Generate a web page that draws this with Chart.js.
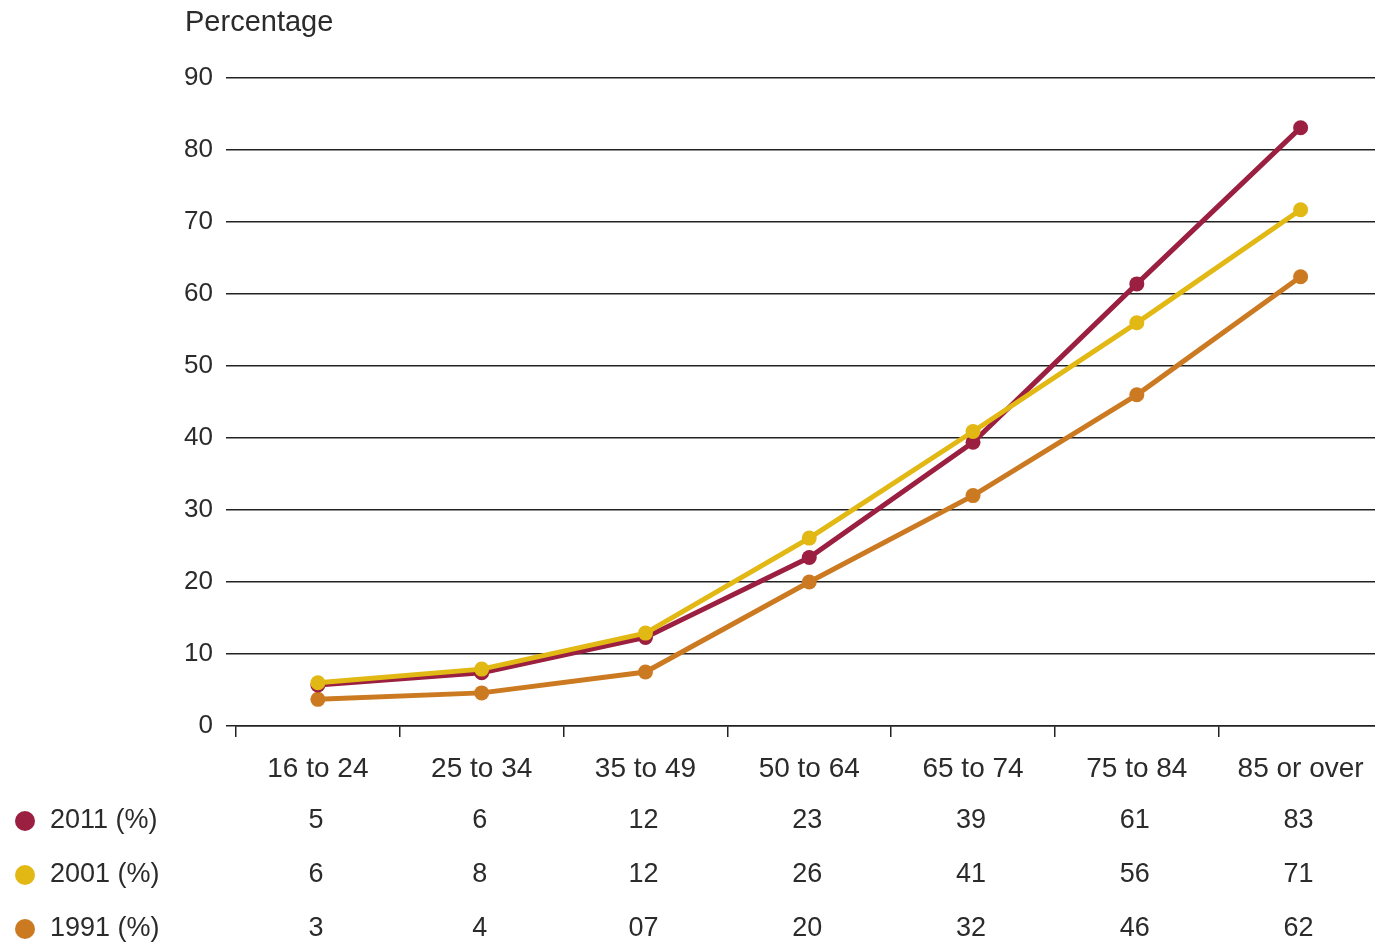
<!DOCTYPE html>
<html>
<head>
<meta charset="utf-8">
<script src="https://cdn.jsdelivr.net/npm/chart.js@4/dist/chart.umd.min.js"></script>
<style>
  html, body { margin: 0; padding: 0; background: #fff; overflow: hidden; }
  #wrap { width: 1390px; height: 943px; }
</style>
</head>
<body>
<div id="wrap"><canvas id="ageChart"></canvas></div>
<script>
const ageGroups = ['16 to 24', '25 to 34', '35 to 49', '50 to 64', '65 to 74', '75 to 84', '85 or over'];

// plotted positions
const values2011 = [5.7, 7.4, 12.3, 23.4, 39.4, 61.4, 83.1];
const values2001 = [6.0, 7.9, 12.9, 26.1, 40.9, 56.0, 71.7];
const values1991 = [3.7, 4.6, 7.5, 20.0, 32.0, 46.0, 62.4];

// table under the axis, as printed
const table2011 = ['5', '6', '12', '23', '39', '61', '83'];
const table2001 = ['6', '8', '12', '26', '41', '56', '71'];
const table1991 = ['3', '4', '07', '20', '32', '46', '62'];

const yTicks = [0, 10, 20, 30, 40, 50, 60, 70, 80, 90];

const FONT = '"Liberation Sans", Arial, sans-serif';
const TEXT = '#2b2b2b';

const rows = [
  { label: '2011 (%)', color: '#9b1f40', cells: table2011 },
  { label: '2001 (%)', color: '#e2b814', cells: table2001 },
  { label: '1991 (%)', color: '#cc7a22', cells: table1991 }
];
const rowY = [821, 875, 929];

// 표 + 제목 그리기
const tablePlugin = {
  id: 'dataTable',
  afterDraw(chart) {
    const ctx = chart.ctx;
    const xs = chart.scales.x;
    ctx.save();
    ctx.fillStyle = TEXT;
    ctx.font = '29px ' + FONT;
    ctx.textBaseline = 'middle';
    ctx.textAlign = 'left';
    ctx.fillText('Percentage', 185, 23);

    ctx.font = '27px ' + FONT;
    rows.forEach((row, r) => {
      const y = rowY[r];
      ctx.beginPath();
      ctx.arc(25, y, 10, 0, Math.PI * 2);
      ctx.fillStyle = row.color;
      ctx.fill();
      ctx.fillStyle = TEXT;
      ctx.textAlign = 'left';
      ctx.fillText(row.label, 50, y);
      ctx.textAlign = 'center';
      row.cells.forEach((c, i) => {
        ctx.fillText(c, xs.getPixelForValue(i) - 2, y);
      });
    });
    ctx.restore();
  }
};

function lineSet(label, data, color, order) {
  return {
    label: label,
    data: data,
    borderColor: color,
    backgroundColor: color,
    pointBackgroundColor: color,
    pointBorderColor: color,
    borderWidth: 5,
    pointRadius: 7.5,
    pointBorderWidth: 0,
    tension: 0,
    order: order
  };
}

new Chart(document.getElementById('ageChart'), {
  type: 'line',
  data: {
    labels: ageGroups,
    datasets: [
      lineSet('2011 (%)', values2011, '#9b1f40', 1),
      lineSet('2001 (%)', values2001, '#e2b814', 0),
      lineSet('1991 (%)', values1991, '#cc7a22', 2)
    ]
  },
  options: {
    responsive: true,
    maintainAspectRatio: false,
    animation: false,
    layout: { padding: { top: 78, left: 0, right: 0, bottom: 0 } },
    plugins: {
      legend: { display: false },
      tooltip: { enabled: false }
    },
    scales: {
      x: {
        offset: true,
        grid: {
          offset: true,
          drawOnChartArea: false,
          drawTicks: true,
          tickLength: 11,
          color: '#222',
          lineWidth: 1.5
        },
        border: { display: true, color: '#222', width: 1.5 },
        ticks: {
          color: TEXT,
          font: { family: FONT, size: 28 },
          padding: 15,
          maxRotation: 0,
          autoSkip: false
        },
        afterFit: (scale) => { scale.height = 217; }
      },
      y: {
        min: 0,
        max: 90,
        afterBuildTicks: (scale) => { scale.ticks = yTicks.map(v => ({ value: v })); },
        grid: {
          color: '#222',
          lineWidth: 1.5,
          drawTicks: true,
          tickLength: 10
        },
        border: { display: false },
        ticks: {
          color: TEXT,
          font: { family: FONT, size: 26 },
          padding: 13
        },
        afterFit: (scale) => { scale.width = 236; }
      }
    }
  },
  plugins: [tablePlugin]
});
</script>
</body>
</html>
